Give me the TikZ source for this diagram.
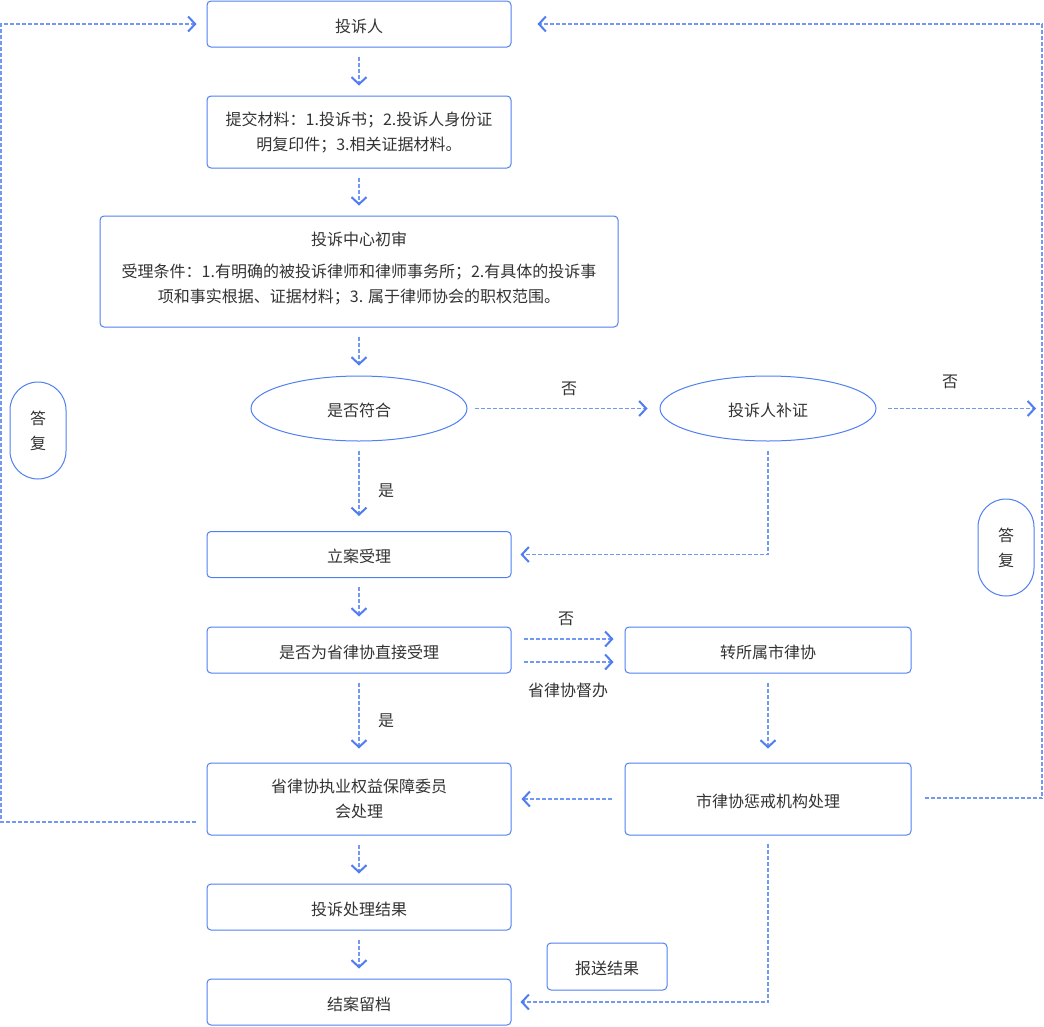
\documentclass[tikz,border=0pt]{standalone}
\usepackage{fontspec}
\setmainfont{Noto Sans CJK SC}
\usetikzlibrary{arrows.meta,shapes.geometric}
\definecolor{boxblue}{HTML}{4F7FF0}
\definecolor{lineblue}{HTML}{7398F4}
\definecolor{tipblue}{HTML}{4F7CF0}
\definecolor{txtgray}{HTML}{333333}
\newcommand\liftline{\rule{0pt}{17.5pt}}
\newcommand\dropline{\rule[-9pt]{0pt}{0pt}}
\tikzset{
  box/.style={draw=boxblue, line width=1pt, rounded corners=4pt, align=center,
    text=txtgray, minimum width=304pt, minimum height=46pt, inner sep=0pt,
    execute at begin node=\liftline},
  oval/.style={ellipse, draw=boxblue, line width=1pt, text=txtgray,
    minimum width=216pt, minimum height=65pt, inner sep=0pt,
    execute at begin node=\liftline},
  pill/.style={draw=boxblue, line width=1pt, rounded corners=28pt, align=center,
    text=txtgray, minimum width=56pt, minimum height=97pt, inner sep=0pt,
    execute at begin node=\liftline},
  lbl/.style={text=txtgray},
  flow/.style={draw=lineblue, line width=1.6pt, dash pattern=on 4pt off 2pt,
    -{Straight Barb[length=7pt,width=15pt,line width=2pt,color=tipblue]},
    shorten <=9pt, shorten >=10pt}
}
\begin{document}
\begin{tikzpicture}[x=1pt,y=-1pt,font=\fontsize{16}{25}\selectfont]
\useasboundingbox (0,0) rectangle (1044,1026);
% main column
\node[box] (tsr) at (359,24) {投诉人};
\node[box, minimum height=72pt] (tjcl) at (359,132) {提交材料：1.投诉书；2.投诉人身份证\\明复印件；3.相关证据材料。};
\node[box, minimum width=518pt, minimum height=111pt] (cs) at (359,271.5)
  {投诉中心初审\\[7pt]受理条件：1.有明确的被投诉律师和律师事务所；2.有具体的投诉事\\项和事实根据、证据材料；3. 属于律师协会的职权范围。\dropline};
\node[oval] (sffh) at (359,408.5) {是否符合};
\node[oval] (bz) at (768,408.5) {投诉人补证};
\node[box] (la) at (359,554.5) {立案受理};
\node[box] (sfw) at (359,650) {是否为省律协直接受理};
\node[box, minimum width=286pt] (zs) at (768,650) {转所属市律协};
\node[box, minimum height=72pt] (swh) at (359,799) {省律协执业权益保障委员\\会处理};
\node[box, minimum width=286pt, minimum height=72pt] (sl) at (768,799) {市律协惩戒机构处理};
\node[box] (jg) at (359,907) {投诉处理结果};
\node[box] (ja) at (359,1002) {结案留档};
\node[box, minimum width=120pt, minimum height=47pt] (bs) at (607,966.5) {报送结果};
\node[pill] (dfl) at (38,430.5) {答\\复};
\node[pill] (dfr) at (1006,547.5) {答\\复};
% labels
\node[lbl] at (569,389) {否};
\node[lbl] at (950,382) {否};
\node[lbl] at (386,491) {是};
\node[lbl] at (386,721) {是};
\node[lbl] at (566,619) {否};
\node[lbl] at (568,690) {省律协督办};
% arrows
\draw[flow] (tsr) -- (tjcl);
\draw[flow] (tjcl) -- (cs);
\draw[flow] (cs) -- (sffh);
\draw[flow, shorten <=7pt, shorten >=12pt] (sffh) -- (bz);
\coordinate (rmid) at (1036,408.5);
\draw[flow, shorten <=11pt, shorten >=0pt] (bz) -- (rmid);
\draw[flow, shorten >=15pt] (sffh) -- (la);
\draw[flow, shorten >=9pt] (bz) |- (la);
\draw[flow] (la) -- (sfw);
\draw[flow, shorten <=12pt, shorten >=11pt] ([yshift=11pt]sfw.east) -- ([yshift=11pt]zs.west);
\draw[flow, shorten <=12pt, shorten >=11pt] ([yshift=-12pt]sfw.east) -- ([yshift=-12pt]zs.west);
\draw[flow, shorten >=14pt] (sfw) -- (swh);
\draw[flow, shorten >=14pt] (zs) -- (sl);
\draw[flow, shorten <=13pt] (sl) -- (swh);
\draw[flow] (swh) -- (jg);
\draw[flow] (jg) -- (ja);
\draw[flow, shorten <=8pt, shorten >=9pt] (sl) |- (ja);
% feedback loops
\coordinate (rbot) at (1042,798);
\coordinate (rtop) at (1042,24);
\draw[flow, shorten <=13pt, shorten >=26pt] (sl.east |- rbot) -- (rbot) -- (rtop) -- (tsr.east);
\coordinate (lbot) at (1,822);
\coordinate (ltop) at (1,24);
\draw[flow, shorten <=11pt] (swh.west |- lbot) -- (lbot) -- (ltop) -- (tsr.west);
\end{tikzpicture}
\end{document}
